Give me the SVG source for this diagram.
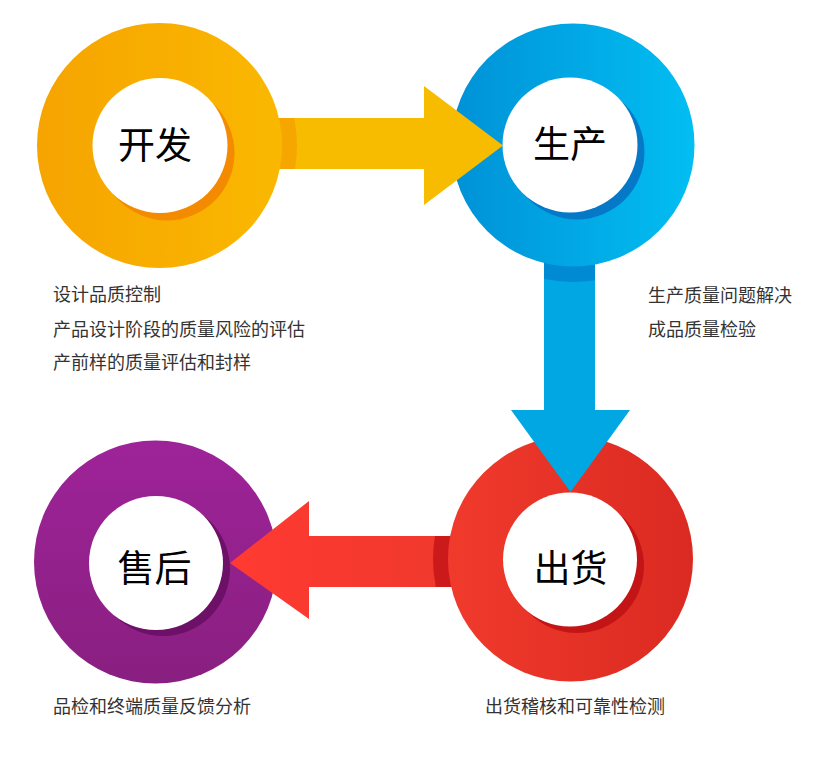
<svg xmlns="http://www.w3.org/2000/svg" width="827" height="762" viewBox="0 0 827 762">
<defs>
<linearGradient id="gOrange" x1="0" y1="0" x2="1" y2="0"><stop offset="0" stop-color="#F6A400"/><stop offset="1" stop-color="#FAB800"/></linearGradient>
<linearGradient id="gBlue" x1="0" y1="0" x2="1" y2="0"><stop offset="0" stop-color="#0091D7"/><stop offset="1" stop-color="#02BEF2"/></linearGradient>
<linearGradient id="gRed" x1="0" y1="0" x2="1" y2="0"><stop offset="0" stop-color="#F03A2C"/><stop offset="1" stop-color="#DB2A22"/></linearGradient>
<linearGradient id="gPurple" x1="0" y1="0" x2="0" y2="1"><stop offset="0" stop-color="#9E2399"/><stop offset="1" stop-color="#891F80"/></linearGradient>
<linearGradient id="gRedArrow" x1="0" y1="0" x2="1" y2="0"><stop offset="0" stop-color="#FF3A31"/><stop offset="1" stop-color="#EF382D"/></linearGradient>
<clipPath id="cShaftO"><rect x="270" y="118" width="160" height="51"/></clipPath>
<clipPath id="cShaftB"><rect x="544" y="255" width="51" height="160"/></clipPath>
<clipPath id="cShaftR"><rect x="300" y="536" width="160" height="51"/></clipPath>
</defs>
<style>
.white{fill:#FFFFFF}
.label{font-family:"Noto Sans CJK SC","Noto Sans",sans-serif;font-size:37px;fill:#000000;text-anchor:middle}
.desc{font-family:"Noto Sans CJK SC","Noto Sans",sans-serif;font-size:18px;fill:#333333}
</style>
<rect width="827" height="762" fill="#FFFFFF"/>

<g id="node-kaifa">
<circle cx="159.5" cy="145.5" r="122.5" fill="url(#gOrange)"/>
<circle cx="167" cy="153" r="67.5" fill="#F38A00"/>
<circle cx="160" cy="145.5" r="67.5" class="white"/>
<text x="155" y="159" class="label">开发</text>
</g>

<g id="node-shengchan">
<circle cx="573" cy="145" r="121.5" fill="url(#gBlue)"/>
<circle cx="577" cy="152" r="67.5" fill="#0578C8"/>
<circle cx="570" cy="145" r="67.5" class="white"/>
<text x="570" y="158" class="label">生产</text>
</g>

<g id="node-chuhuo">
<circle cx="570.5" cy="559" r="122.5" fill="url(#gRed)"/>
<circle cx="577" cy="566" r="67" fill="#C41516"/>
<circle cx="570" cy="559.5" r="67" class="white"/>
<text x="570.5" y="582" class="label">出货</text>
</g>

<g id="node-shouhou">
<circle cx="155.5" cy="562" r="121.5" fill="url(#gPurple)"/>
<circle cx="163" cy="569" r="67" fill="#6C1068"/>
<circle cx="156" cy="563" r="67" class="white"/>
<text x="154.5" y="582" class="label">售后</text>
</g>

<g id="connectors">
<g id="arrow-kaifa-shengchan">
<polygon points="270,118 424,118 424,86 503,145.5 424,205 424,169 270,169" fill="#F7BC00"/>
<circle cx="159.5" cy="145.5" r="137.5" fill="#F5A700" clip-path="url(#cShaftO)"/>
<circle cx="159.5" cy="145.5" r="122.5" fill="url(#gOrange)" clip-path="url(#cShaftO)"/>
</g>
<g id="arrow-shengchan-chuhuo">
<polygon points="544,255 595,255 595,410 630,410 570.5,492 511,410 544,410" fill="#00A7E3"/>
<circle cx="573" cy="145" r="137" fill="#008AD4" clip-path="url(#cShaftB)"/>
<circle cx="573" cy="145" r="121.5" fill="url(#gBlue)" clip-path="url(#cShaftB)"/>
</g>
<g id="arrow-chuhuo-shouhou">
<polygon points="460,536 309,536 309,501 230,563 309,619 309,587 460,587" fill="url(#gRedArrow)"/>
<circle cx="570.5" cy="559" r="137.5" fill="#CC1A1B" clip-path="url(#cShaftR)"/>
<circle cx="570.5" cy="559" r="122.5" fill="url(#gRed)" clip-path="url(#cShaftR)"/>
</g>
</g>

<g id="desc-kaifa">
<text x="53" y="301" class="desc">设计品质控制</text>
<text x="53" y="335.5" class="desc">产品设计阶段的质量风险的评估</text>
<text x="53" y="369" class="desc">产前样的质量评估和封样</text>
</g>
<g id="desc-shengchan">
<text x="648" y="301.5" class="desc">生产质量问题解决</text>
<text x="648" y="336" class="desc">成品质量检验</text>
</g>
<g id="desc-shouhou">
<text x="53" y="712.5" class="desc">品检和终端质量反馈分析</text>
</g>
<g id="desc-chuhuo">
<text x="485" y="712.5" class="desc">出货稽核和可靠性检测</text>
</g>
</svg>
